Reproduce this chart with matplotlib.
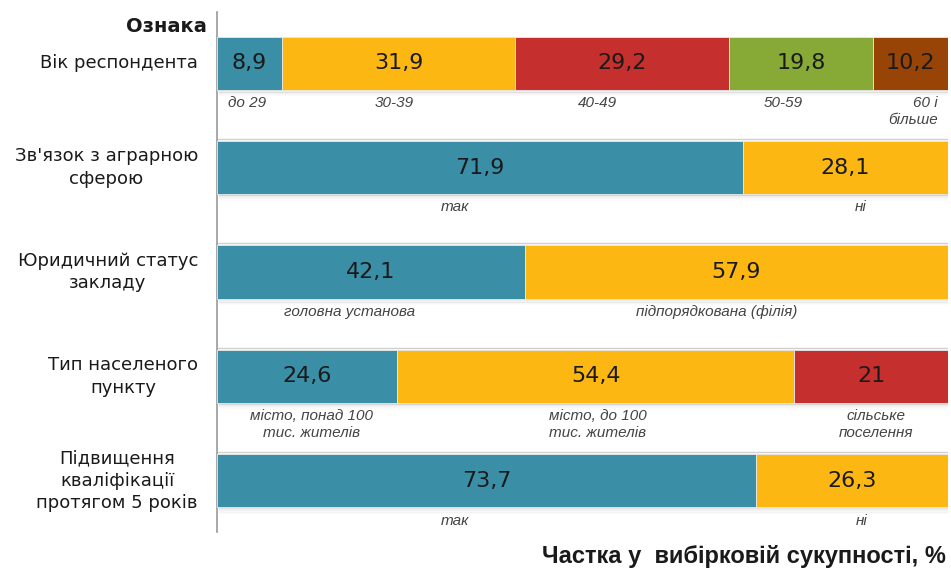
import matplotlib
matplotlib.use("Agg")
import matplotlib.pyplot as plt
from matplotlib.patches import Rectangle

# ---- data ----
categories = ["Вік респондента", "Зв'язок з аграрною\nсферою", "Юридичний статус\nзакладу",
              "Тип населеного\nпункту", "Підвищення\nкваліфікації\nпротягом 5 років"]
values = [
    [8.9, 31.9, 29.2, 19.8, 10.2],
    [71.9, 28.1],
    [42.1, 57.9],
    [24.6, 54.4, 21.0],
    [73.7, 26.3],
]
value_labels = [
    ["8,9", "31,9", "29,2", "19,8", "10,2"],
    ["71,9", "28,1"],
    ["42,1", "57,9"],
    ["24,6", "54,4", "21"],
    ["73,7", "26,3"],
]
sub_labels = [
    ["до 29", "30-39", "40-49", "50-59", "60 і\nбільше"],
    ["так", "ні"],
    ["головна установа", "підпорядкована (філія)"],
    ["місто, понад 100\nтис. жителів", "місто, до 100\nтис. жителів", "сільське\nпоселення"],
    ["так", "ні"],
]
header = "Ознака"
xlabel = "Частка у  вибірковій сукупності, %"

# ---- layout (positions of the category captions under the bars, in % units) ----
sub_label_x = [
    [(1.5, "left"), (24.2, "center"), (52.0, "center"), (77.4, "center"), (98.6, "right")],
    [(32.6, "center"), (88.0, "center")],
    [(18.2, "center"), (68.4, "center")],
    [(12.9, "center"), (52.1, "center"), (90.2, "center")],
    [(32.6, "center"), (88.2, "center")],
]

colors = ["#3A8EA5", "#FDB713", "#C5302F", "#86AA35", "#994407"]

W, H = 951, 569
fig = plt.figure(figsize=(W / 100, H / 100), dpi=100)
ax_l, ax_r = 217 / W, 948 / W
ax_top, ax_bot = 12 / H, 532 / H
ax = fig.add_axes([ax_l, 1 - ax_bot, ax_r - ax_l, ax_bot - ax_top])
ax.set_xlim(0, 100)
ax.set_ylim(4.49, -0.49)
for s in ["top", "right", "bottom"]:
    ax.spines[s].set_visible(False)
ax.spines["left"].set_color("#9a9a9a")
ax.spines["left"].set_linewidth(1.2)
ax.set_xticks([])
ax.set_yticks([])

bh = 0.51
for i, row in enumerate(values):
    # separators
    if i > 0:
        ax.axhline(i - bh / 2 - 0.02, color="#d0d0d0", lw=1.0, zorder=1)
    # shadow
    total = sum(row)
    for k, a in enumerate([0.10, 0.07, 0.05, 0.03, 0.015]):
        ax.add_patch(Rectangle((0.3, i + bh / 2 + k * 0.012), total, 0.014,
                               color="black", alpha=a, lw=0, zorder=2))
    left = 0
    for j, v in enumerate(row):
        ax.barh(i, v, left=left, height=bh, color=colors[j], edgecolor="#e8e8e8",
                linewidth=0.6, zorder=3)
        ax.text(left + v / 2, i, value_labels[i][j], ha="center", va="center",
                fontsize=16, color="#1a1a1a", family="DejaVu Sans", zorder=4)
        xs, ha = sub_label_x[i][j]
        ax.text(xs, i + bh / 2 + 0.06, sub_labels[i][j], ha=ha, va="top", fontsize=11,
                style="italic", color="#444444", family="Liberation Sans",
                multialignment=ha if ha != "left" else "left",
                linespacing=1.25, zorder=4)
        left += v

# left category labels
for i, c in enumerate(categories):
    ax.text(-2.6, i, c, ha="right", va="center", fontsize=13, color="#1a1a1a",
            family="DejaVu Sans", linespacing=1.3, multialignment="center",
            transform=ax.transData, clip_on=False)

fig.text(207 / W, 1 - 27 / H, header, ha="right", va="center", fontsize=14,
         fontweight="bold", family="DejaVu Sans", color="#1a1a1a")
fig.text(946 / W, 1 - 557 / H, xlabel, ha="right", va="center", fontsize=17,
         fontweight="bold", family="Liberation Sans", color="#1a1a1a")

fig.savefig("out.png", dpi=100)
